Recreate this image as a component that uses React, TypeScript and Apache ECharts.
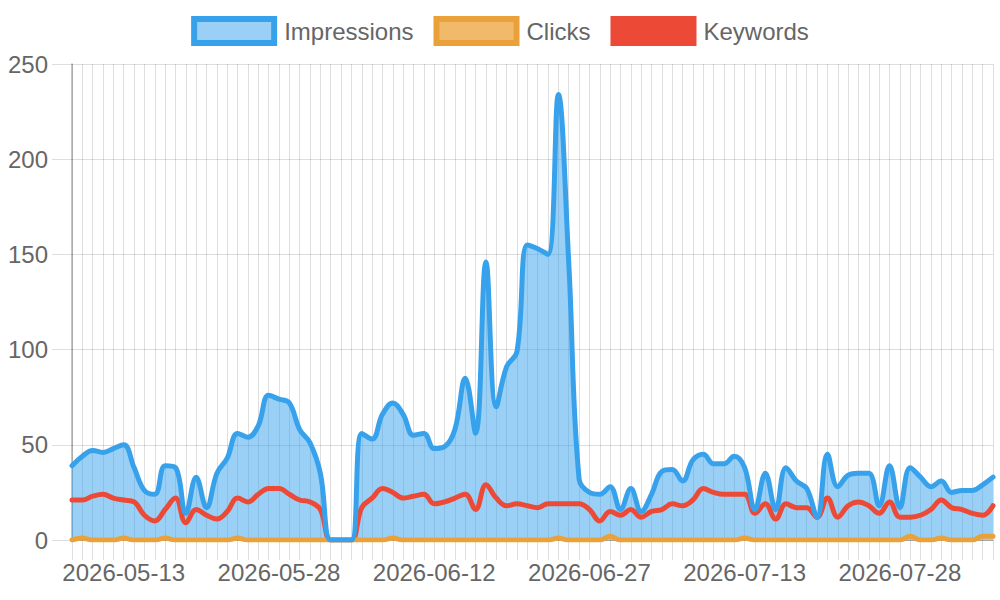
import React, { useEffect, useRef } from "react";
import * as echarts from "echarts";

const dates: string[] = [
  "2026-05-08", "2026-05-09", "2026-05-10", "2026-05-11", "2026-05-12", "2026-05-13", "2026-05-14", "2026-05-15",
  "2026-05-16", "2026-05-17", "2026-05-18", "2026-05-19", "2026-05-20", "2026-05-21", "2026-05-22", "2026-05-23",
  "2026-05-24", "2026-05-25", "2026-05-26", "2026-05-27", "2026-05-28", "2026-05-29", "2026-05-30", "2026-05-31",
  "2026-06-01", "2026-06-02", "2026-06-03", "2026-06-04", "2026-06-05", "2026-06-06", "2026-06-07", "2026-06-08",
  "2026-06-09", "2026-06-10", "2026-06-11", "2026-06-12", "2026-06-13", "2026-06-14", "2026-06-15", "2026-06-16",
  "2026-06-17", "2026-06-18", "2026-06-19", "2026-06-20", "2026-06-21", "2026-06-22", "2026-06-23", "2026-06-24",
  "2026-06-25", "2026-06-26", "2026-06-27", "2026-06-28", "2026-06-29", "2026-06-30", "2026-07-01", "2026-07-02",
  "2026-07-03", "2026-07-05", "2026-07-06", "2026-07-07", "2026-07-08", "2026-07-09", "2026-07-10", "2026-07-11",
  "2026-07-12", "2026-07-13", "2026-07-14", "2026-07-15", "2026-07-16", "2026-07-17", "2026-07-18", "2026-07-19",
  "2026-07-20", "2026-07-21", "2026-07-22", "2026-07-23", "2026-07-24", "2026-07-25", "2026-07-26", "2026-07-27",
  "2026-07-28", "2026-07-29", "2026-07-30", "2026-07-31", "2026-08-01", "2026-08-02", "2026-08-03", "2026-08-04",
  "2026-08-05", "2026-08-06",
];

const impressions: number[] = [
  39, 44, 47, 46, 48, 50, 38, 26, 24, 39,
  38, 14, 33, 17, 35, 43, 56, 54, 60, 76,
  74, 72, 58, 51, 35, 0, 0, 0, 56, 53,
  66, 72, 66, 55, 56, 48, 49, 58, 85, 56,
  146, 70, 91, 99, 155, 153, 150, 234, 146, 32,
  25, 24, 28, 16, 27, 15, 24, 36, 37, 31,
  42, 45, 40, 40, 44, 38, 16, 35, 16, 38,
  31, 27, 12, 45, 28, 34, 35, 35, 18, 39,
  17, 38, 33, 28, 31, 25, 26, 26, 29, 33,
];

const clicks: number[] = [
  0, 1, 0, 0, 0, 1, 0, 0, 0, 1,
  0, 0, 0, 0, 0, 0, 1, 0, 0, 0,
  0, 0, 0, 0, 0, 0, 0, 0, 0, 0,
  0, 1, 0, 0, 0, 0, 0, 0, 0, 0,
  0, 0, 0, 0, 0, 0, 0, 1, 0, 0,
  0, 0, 2, 0, 0, 0, 0, 0, 0, 0,
  0, 0, 0, 0, 0, 1, 0, 0, 0, 0,
  0, 0, 0, 0, 0, 0, 0, 0, 0, 0,
  0, 2, 0, 0, 1, 0, 0, 0, 2, 2,
];

const keywords: number[] = [
  21, 21, 23, 24, 22, 21, 20, 13, 10, 16,
  22, 9, 16, 13, 11, 15, 22, 20, 24, 27,
  27, 24, 21, 20, 16, 0, 0, 0, 17, 22,
  27, 25, 22, 23, 24, 19, 20, 22, 24, 16,
  29, 22, 18, 19, 18, 17, 19, 19, 19, 19,
  16, 10, 15, 13, 16, 12, 15, 16, 19, 18,
  21, 27, 25, 24, 24, 24, 14, 19, 11, 19,
  17, 17, 12, 22, 12, 18, 20, 18, 14, 20,
  12, 12, 13, 16, 21, 17, 16, 14, 13, 18,
];

const seriesNames = ["Impressions", "Clicks", "Keywords"];
const yTicks = { min: 0, max: 250, interval: 50 };

const FONT = "'Liberation Sans', Arial, Helvetica, sans-serif";
const GRID = "rgba(0,0,0,0.13)";
const BLUE = "#37a2eb";
const BLUE_FILL = "rgba(54,162,235,0.5)";
const ORANGE = "#eba13a";
const ORANGE_FILL = "#f1ba6b";
const RED = "#ec4a36";

export default function App() {
  const ref = useRef<HTMLDivElement>(null);

  useEffect(() => {
    if (!ref.current) return;
    const chart = echarts.init(ref.current, undefined, { renderer: "svg" });
    const lineCommon = {
      type: "line" as const,
      smooth: 0.4,
      symbol: "none",
      showSymbol: false,
    };
    chart.setOption({
      animation: false,
      textStyle: { fontFamily: FONT },
      legend: {
        left: "center",
        top: 11,
        icon: "rect",
        itemWidth: 80,
        itemHeight: 24,
        itemGap: 20,
        selectedMode: false,
        textStyle: { fontSize: 24, color: "#666", fontFamily: FONT, padding: [0, 0, 0, 5] },
        data: [
          { name: seriesNames[0], itemStyle: { color: "#9ad0f5", borderColor: BLUE, borderWidth: 6 } },
          { name: seriesNames[1], itemStyle: { color: ORANGE_FILL, borderColor: ORANGE, borderWidth: 6 } },
          { name: seriesNames[2], itemStyle: { color: RED, borderColor: RED, borderWidth: 6 } },
        ],
      },
      grid: { left: 72, right: 7, top: 64, bottom: 60, containLabel: false },
      xAxis: {
        type: "category",
        data: dates,
        boundaryGap: false,
        axisLine: { show: true, lineStyle: { color: "rgba(0,0,0,0.25)", width: 1 } },
        axisTick: { show: true, interval: 0, length: 20, lineStyle: { color: GRID } },
        splitLine: { show: true, interval: 0, lineStyle: { color: GRID } },
        axisLabel: {
          interval: (i: number) => i % 15 === 5,
          fontSize: 24,
          color: "#666",
          fontFamily: FONT,
          margin: 20,
        },
      },
      yAxis: {
        type: "value",
        min: yTicks.min,
        max: yTicks.max,
        interval: yTicks.interval,
        axisLine: { show: true, lineStyle: { color: "rgba(0,0,0,0.3)", width: 1.5 } },
        axisTick: { show: true, length: 20, lineStyle: { color: GRID } },
        splitLine: { show: true, lineStyle: { color: GRID } },
        axisLabel: { fontSize: 24, color: "#666", fontFamily: FONT, margin: 24 },
      },
      series: [
        {
          ...lineCommon,
          name: "Impressions area",
          data: impressions,
          z: 1,
          lineStyle: { width: 0, color: BLUE },
          itemStyle: { color: BLUE },
          areaStyle: { color: BLUE_FILL, opacity: 1, origin: "start" },
        },
        {
          ...lineCommon,
          name: seriesNames[2],
          data: keywords,
          z: 2,
          lineStyle: { width: 5, color: RED, cap: "round", join: "round" },
          itemStyle: { color: RED },
        },
        {
          ...lineCommon,
          name: seriesNames[1],
          data: clicks,
          z: 3,
          lineStyle: { width: 5, color: ORANGE, cap: "round", join: "round" },
          itemStyle: { color: ORANGE },
        },
        {
          ...lineCommon,
          name: seriesNames[0],
          data: impressions,
          z: 4,
          lineStyle: { width: 5, color: BLUE, cap: "round", join: "round" },
          itemStyle: { color: BLUE },
        },
      ],
    });
    return () => chart.dispose();
  }, []);

  return (
    <div
      ref={ref}
      style={{ position: "absolute", left: 0, top: 0, width: 1000, height: 600, background: "#fff" }}
    />
  );
}
